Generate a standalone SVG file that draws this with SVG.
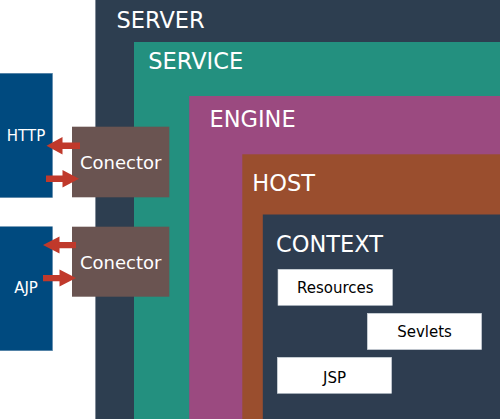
<svg xmlns="http://www.w3.org/2000/svg" width="500" height="419" viewBox="0 0 500 419">
<defs>
<style>
.lbl{font-family:"DejaVu Sans","Liberation Sans",sans-serif;fill:#ffffff}
.big{font-size:22.5px}
.box{fill:#ffffff;stroke:#c8d0d8;stroke-width:0.6}
.btxt{font-family:"DejaVu Sans","Liberation Sans",sans-serif;font-size:15px;fill:#000000;text-anchor:middle}
.proto{fill:#004a7f;stroke:#5b86a8;stroke-width:0.6}
.conn{fill:#6a5451}
.ctxt{font-family:"DejaVu Sans","Liberation Sans",sans-serif;font-size:18px;fill:#ffffff;text-anchor:middle}
.ptxt{font-family:"DejaVu Sans","Liberation Sans",sans-serif;font-size:15px;fill:#ffffff;text-anchor:middle}
.arrow{fill:#c0392b}
</style>
</defs>
<g id="server"><rect x="95.3" y="-1" width="406" height="421" fill="#2d3e50" stroke="#8f9aa6" stroke-width="0.6"/><text class="lbl big" x="116.5" y="28">SERVER</text></g>
<g id="service"><rect x="134" y="42" width="367" height="378" fill="#23907f"/><text class="lbl big" x="148.3" y="69.3">SERVICE</text></g>
<g id="engine"><rect x="189.2" y="96" width="312" height="324" fill="#9b4a80"/><text class="lbl big" x="209.5" y="126.7">ENGINE</text></g>
<g id="host"><rect x="242.3" y="154.3" width="259" height="266" fill="#9a4e2e"/><text class="lbl big" x="252.3" y="191">HOST</text></g>
<g id="context"><rect x="262.8" y="214.5" width="238" height="206" fill="#2e3d50"/><text class="lbl big" x="276" y="252.3">CONTEXT</text></g>
<g id="resources"><rect class="box" x="278" y="269.3" width="114.5" height="36"/><text class="btxt" x="335.3" y="293.3">Resources</text></g>
<g id="sevlets"><rect class="box" x="367.3" y="313.3" width="114.3" height="36.3"/><text class="btxt" x="424.5" y="337.3">Sevlets</text></g>
<g id="jsp"><rect class="box" x="277.3" y="357.3" width="114.3" height="36"/><text class="btxt" x="334.5" y="383.3">JSP</text></g>
<g id="http"><rect class="proto" x="-1" y="73.3" width="53.5" height="124.3"/><text class="ptxt" x="26" y="141">HTTP</text></g>
<g id="ajp"><rect class="proto" x="-1" y="226.7" width="53.5" height="124"/><text class="ptxt" x="26" y="293.3">AJP</text></g>
<g id="conector1"><rect class="conn" x="72" y="126.7" width="97.3" height="70.6"/><text class="ctxt" x="120.7" y="169.3">Conector</text></g>
<g id="conector2"><rect class="conn" x="72" y="226.7" width="97.3" height="70"/><text class="ctxt" x="120.7" y="268.7">Conector</text></g>
<g id="connectors">
<polygon class="arrow" points="80,142.5 62.5,142.5 62.5,137 46.5,145.7 62.5,154.5 62.5,149 80,149"/>
<polygon class="arrow" points="46,175.5 62.5,175.5 62.5,170 79,178.7 62.5,187.5 62.5,182 46,182"/>
<polygon class="arrow" points="76,242 59.5,242 59.5,236.5 43,245 59.5,253.5 59.5,248.2 76,248.2"/>
<polygon class="arrow" points="43,275 59.5,275 59.5,269.5 76,278 59.5,286.5 59.5,281.2 43,281.2"/>
</g>
</svg>
